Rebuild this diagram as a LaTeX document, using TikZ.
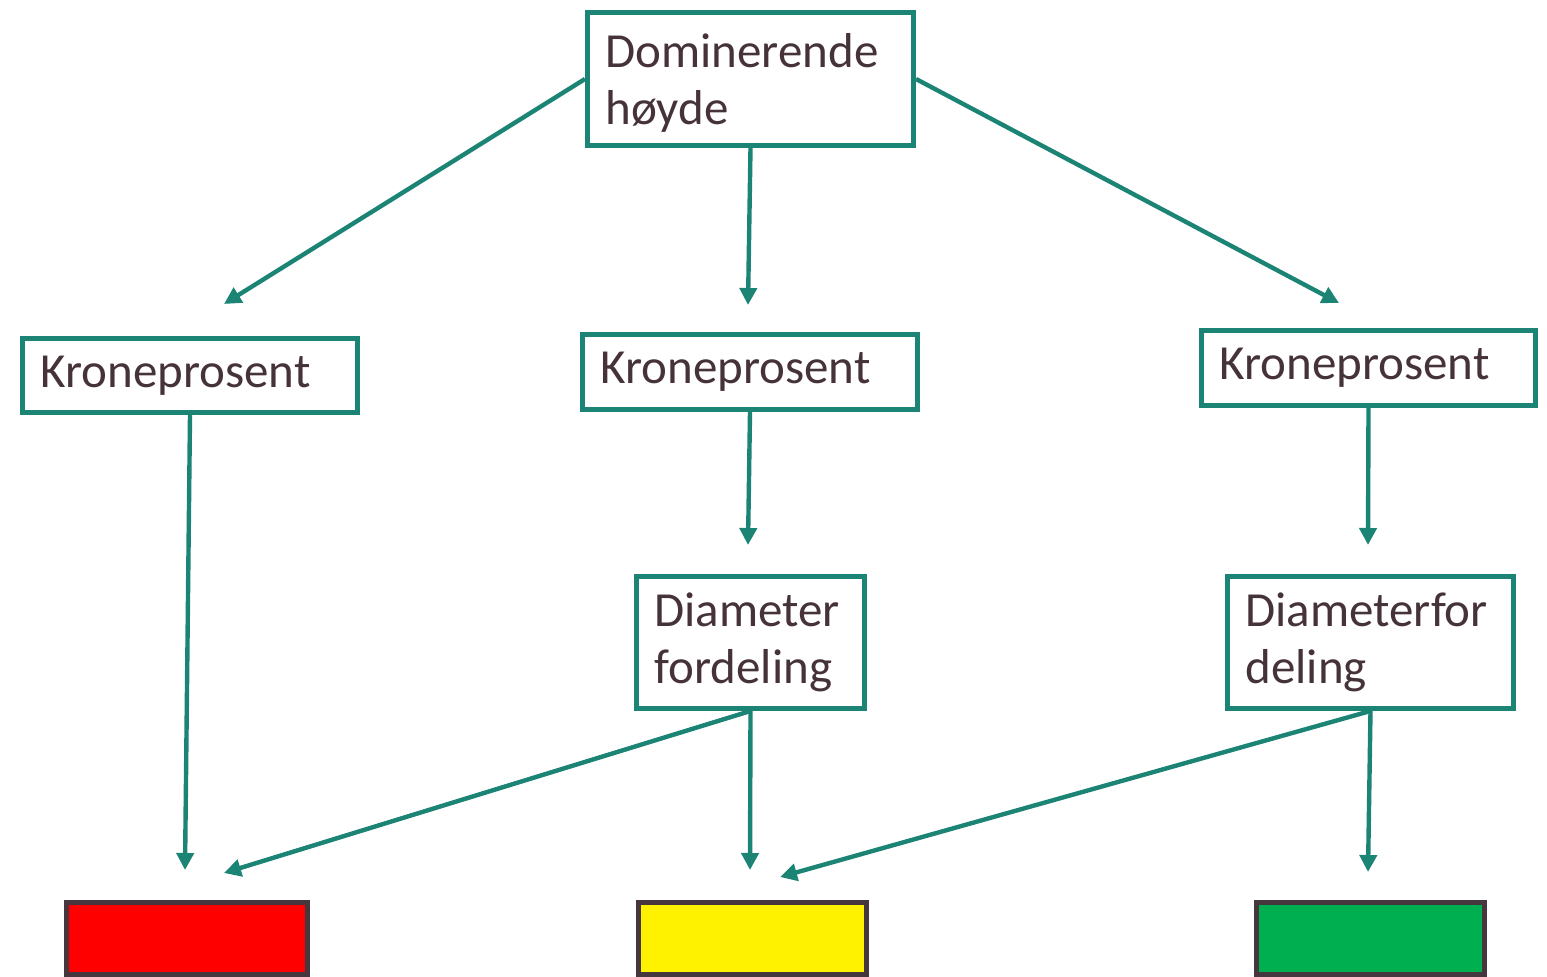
\documentclass[tikz,border=0pt]{standalone}
\usepackage{fontspec}
\setmainfont{Carlito}
\usepackage{tikz}
\usetikzlibrary{arrows.meta,positioning}
\definecolor{teal1}{HTML}{1B8475}
\definecolor{txt}{HTML}{46333A}
\definecolor{rimc}{HTML}{46373E}
\definecolor{grn}{HTML}{00B050}

\begin{document}
\begin{tikzpicture}[x=0.5pt,y=-0.5pt,
  bx/.style={draw=teal1,line width=2.5pt,fill=white,text=txt,anchor=north west,
    align=left,inner xsep=9pt,inner ysep=0pt,font=\fontsize{24.5}{28.5}\selectfont},
  lamp/.style={draw=rimc,line width=2.5pt,anchor=north west,minimum height=36pt,inner sep=0pt},
  arr/.style={draw=teal1,line width=2.2pt,-{Triangle[length=8.5pt,width=8.5pt]}}]
\useasboundingbox (0,0) rectangle (1547,977);
% boxes
\node[bx,minimum width=163pt,minimum height=66.5pt,text width=145pt,text height=24pt,text depth=35.5pt] (dom) at (585,10) {Dominerende\\høyde};
\node[bx,minimum width=167.5pt,minimum height=37pt,text width=149.5pt] (kp1) at (20,336) {Kroneprosent};
\node[bx,minimum width=167.5pt,minimum height=37.5pt,text width=149.5pt] (kp2) at (580,332) {Kroneprosent};
\node[bx,minimum width=167pt,minimum height=37.5pt,text width=149pt] (kp3) at (1199,328) {Kroneprosent};
\node[bx,minimum width=114pt,minimum height=66pt,text width=96pt] (dia2) at (634,574) {Diameter\\fordeling};
\node[bx,minimum width=143pt,minimum height=66pt,text width=125pt] (dia3) at (1225,574) {Diameterfor\\deling};
% result
\node[lamp,fill=red,minimum width=120.5pt] (rod) at (64,900) {};
\node[lamp,fill=yellow,minimum width=114pt] (gul) at (636,900) {};
\node[lamp,fill=grn,minimum width=114pt] (gronn) at (1254,900) {};
% arrow ends
\coordinate (tL) at (224,304);
\coordinate (tM) at (748,305);
\coordinate (tR) at (1339,303);
\coordinate (mM) at (748,545);
\coordinate (mR) at (1368,545);
\coordinate (r1) at (185,870);
\coordinate (r2) at (224,873);
\coordinate (y1) at (750,870);
\coordinate (y2) at (780,877);
\coordinate (g1) at (1368,872);
\draw[arr] (dom.west) -- (tL);
\draw[arr] (dom.south) -- (tM);
\draw[arr] (dom.east) -- (tR);
\draw[arr] (kp1.south) -- (r1);
\draw[arr] (kp2.south) -- (mM);
\draw[arr] (kp3.south) -- (mR);
\draw[arr] (dia2.south) -- (r2);
\draw[arr] (dia2.south) -- (y1);
\draw[arr] (dia3.south) -- (y2);
\draw[arr] (dia3.south) -- (g1);
\end{tikzpicture}
\end{document}
